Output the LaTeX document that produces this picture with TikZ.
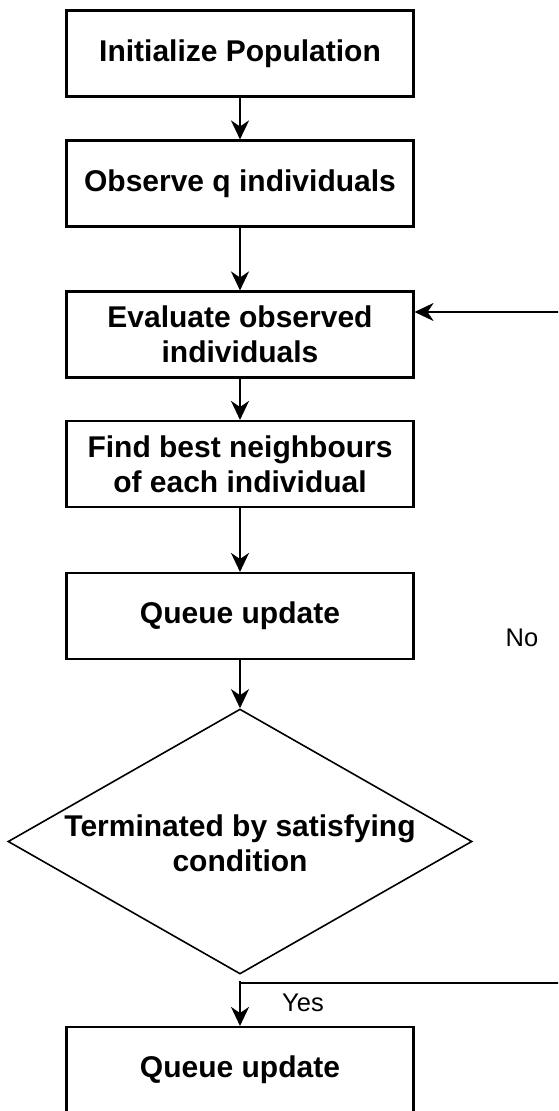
\documentclass[tikz,border=0pt]{standalone}
\usepackage{fontspec}
\setmainfont{Liberation Sans}
\usetikzlibrary{arrows.meta,shapes.geometric}

\tikzset{
  stepbox/.style={draw, line width=2.1pt, minimum width=347pt, minimum height=86pt,
    inner sep=0pt, align=center, font=\fontsize{30}{35}\selectfont\bfseries},
  decision/.style={draw, diamond, line width=1.6pt, minimum width=464pt,
    minimum height=265pt, inner sep=0pt},
  dectext/.style={align=center, inner sep=0pt, font=\fontsize{30}{35}\selectfont\bfseries},
  flow/.style={line width=2.1pt, -{Stealth[length=19pt,width=18pt,inset=6pt]}},
  plainline/.style={line width=2.1pt},
  edgelabel/.style={inner sep=0pt, font=\fontsize{25.5}{30}\selectfont}
}

\begin{document}
\begin{tikzpicture}[x=1pt,y=-1pt]
  \useasboundingbox (0,0) rectangle (558,1111);
  \clip (0,0) rectangle (558,1111);
  \fill[white] (0,0) rectangle (558,1111);

  % main chain of steps
  \node[stepbox] (init) at (240,53.5) {Initialize Population};
  \node[stepbox] (obs)  at (240,183.5) {Observe q individuals};
  \node[stepbox] (eval) at (240,334.5) {Evaluate observed\\individuals};
  \node[stepbox] (best) at (240,464) {Find best neighbours\\of each individual};
  \node[stepbox] (qu1)  at (240,616) {Queue update};
  \node[decision] (term) at (240,841.5) {};
  \node[dectext] (termtxt) at (240,843) {Terminated by satisfying\\condition};
  \node[stepbox] (qu2)  at (240,1070) {Queue update};

  \draw[flow] (init) -- (obs);
  \draw[flow] (obs) -- (eval);
  \draw[flow] (eval) -- (best);
  \draw[flow] (best) -- (qu1);
  \draw[flow] (qu1) -- (term);
  \draw[flow, shorten <=6pt] (term.south) -- (qu2.north);

  % loop back to the evaluation step, entering its upper right side
  \coordinate (split) at (240,983);
  \coordinate (loopcorner) at (580,983);
  \coordinate (evalin) at ([yshift=22.5pt]eval.east);
  \draw[plainline] (split) -- (loopcorner);
  \draw[flow] (loopcorner) |- (evalin);

  \node[edgelabel] (yes) at (303,1003) {Yes};
  \node[edgelabel] (no)  at (522,638) {No};
\end{tikzpicture}
\end{document}
